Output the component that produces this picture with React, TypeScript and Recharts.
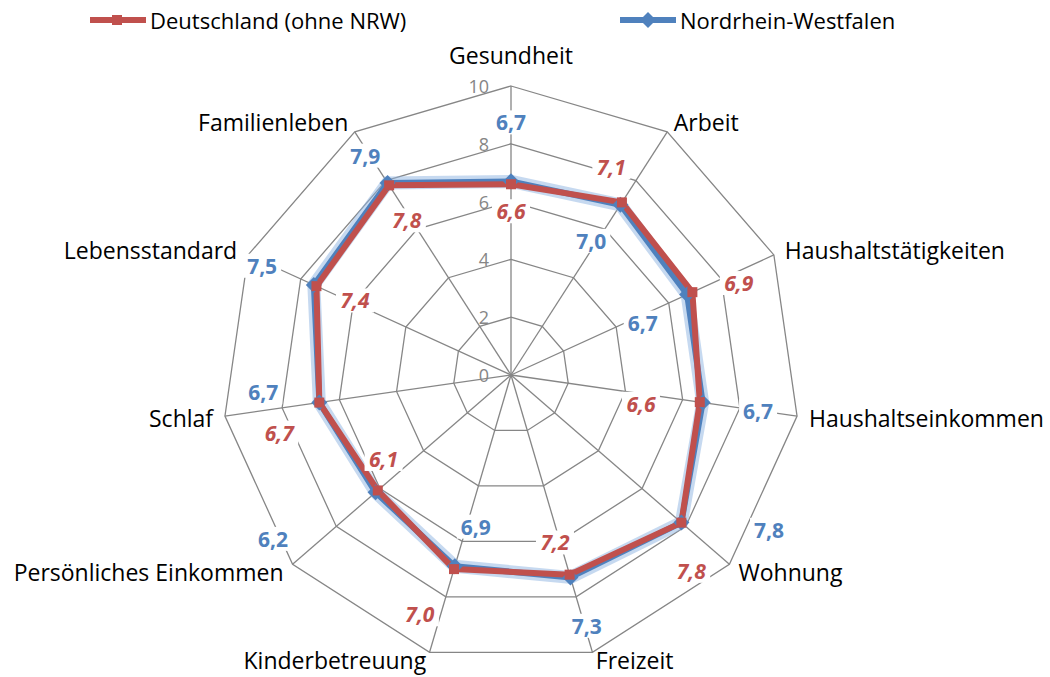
import { RadarChart, Radar, PolarGrid, PolarAngleAxis, PolarRadiusAxis } from 'recharts';

const categories = ['Gesundheit', 'Arbeit', 'Haushaltstätigkeiten', 'Haushaltseinkommen', 'Wohnung', 'Freizeit', 'Kinderbetreuung', 'Persönliches Einkommen', 'Schlaf', 'Lebensstandard', 'Familienleben'];
const deutschland = [6.6, 7.1, 6.9, 6.6, 7.8, 7.2, 7.0, 6.1, 6.7, 7.4, 7.8];
const nrw = [6.7, 7.0, 6.7, 6.7, 7.8, 7.3, 6.9, 6.2, 6.7, 7.5, 7.9];
const radiusTicks = [0, 2, 4, 6, 8, 10];

// label placement per point: [radial px, clockwise tangential px]
const deLabelOffset = [[-27, 0], [24, -28], [46, 11], [-58, 10], [39, 30], [-35, 5], [53, 20], [-25, 20], [44, -24], [-41, 3], [-39, -4]];
const nrwLabelOffset = [[59, 0], [-46, -5], [-52, 7], [56, 0], [71, -52], [51, -2], [-44, -9], [108, 32], [54, 18], [55, -4], [35, -4]];

const data = categories.map((name, i) => ({ name, de: deutschland[i], nrw: nrw[i] }));

const CX = 511;
const CY = 375;
const R = 289;
const RED = '#C0504D';
const BLUE = '#4F81BD';
const FONT = '"Open Sans", "Noto Sans", sans-serif';

const fmt = (v: number) => v.toFixed(1).replace('.', ',');

function AngleTick(props: any) {
  const { x, y, payload } = props;
  const dx = x - CX;
  const dy = y - CY;
  const len = Math.hypot(dx, dy) || 1;
  const ux = dx / len;
  const uy = dy / len;
  const vx = CX + ux * R;
  const vy = CY + uy * R;
  const mid = Math.abs(ux) < 0.05;
  const anchor = mid ? 'middle' : ux > 0 ? 'start' : 'end';
  // keep the bottom labels inside the frame
  const ty = Math.min(vy + uy * 12 - (mid ? 19 : 0), 660);
  return (
    <text x={vx + ux * 12} y={ty} textAnchor={anchor} dominantBaseline="central"
      fontSize={23} fontFamily={FONT} fill="#000">
      {payload.value}
    </text>
  );
}

function RadiusTick(props: any) {
  const { x, y, payload } = props;
  return (
    <text x={x - 22} y={y} textAnchor="end" dominantBaseline="central" fontSize={18} fontFamily={FONT} fill="#868686">
      {payload.value}
    </text>
  );
}

function makeDot(values: number[], offsets: number[][], color: string, shape: 'square' | 'diamond', italic: boolean) {
  return (props: any) => {
    const { cx, cy, index } = props;
    const dx = cx - CX;
    const dy = cy - CY;
    const len = Math.hypot(dx, dy) || 1;
    const ux = dx / len;
    const uy = dy / len;
    const [rad, tan] = offsets[index];
    const lx = cx + ux * rad - uy * tan;
    const ly = cy + uy * rad + ux * tan;
    return (
      <g key={`dot-${shape}-${index}`}>
        {shape === 'square' ? (
          <rect x={cx - 5} y={cy - 5} width={10} height={10} fill={color} />
        ) : (
          <polygon points={`${cx},${cy - 8} ${cx + 8},${cy} ${cx},${cy + 8} ${cx - 8},${cy}`} fill={color} />
        )}
        <rect x={lx - 19} y={ly - 12} width={38} height={24} fill="#fff" />
        <text x={lx} y={ly} textAnchor="middle" dominantBaseline="central" fontSize={21} fontWeight="bold"
          fontStyle={italic ? 'italic' : 'normal'} fontFamily={FONT} fill={color}>
          {fmt(values[index])}
        </text>
      </g>
    );
  };
}

function LegendItem({ color, shape, label, left }: { color: string, shape: 'square' | 'diamond', label: string, left: number }) {
  return (
    <div style={{ position: 'absolute', left, top: 6, display: 'flex', alignItems: 'center' }}>
      <svg width={56} height={28}>
        <line x1={0} y1={14} x2={56} y2={14} stroke={color} strokeWidth={6} />
        {shape === 'square'
          ? <rect x={22} y={9} width={10} height={10} fill={color} />
          : <polygon points="28,6 36,14 28,22 20,14" fill={color} />}
      </svg>
      <span style={{ fontSize: 22, fontFamily: FONT, color: '#000', marginLeft: 4, lineHeight: '28px' }}>{label}</span>
    </div>
  );
}

export default function App() {
  return (
    <div style={{ position: 'absolute', left: 0, top: 0, width: 1050, height: 677, background: '#fff' }}>
      <RadarChart width={1050} height={677} data={data} cx={CX} cy={CY} outerRadius={R}
        startAngle={90} endAngle={-270} margin={{ top: 0, right: 0, bottom: 0, left: 0 }}>
        <PolarGrid gridType="polygon" stroke="#868686" strokeWidth={1.3} />
        <PolarAngleAxis dataKey="name" tick={AngleTick} tickLine={false} axisLine={false} />
        <PolarRadiusAxis angle={90} domain={[0, 10]} ticks={radiusTicks} tickCount={6} tick={RadiusTick}
          axisLine={false} tickLine={false} />
        <Radar dataKey="nrw" stroke="#8db3e2" strokeOpacity={0.5} strokeWidth={13} fill="none" fillOpacity={0}
          dot={false} isAnimationActive={false} legendType="none" />
        <Radar dataKey="nrw" name="Nordrhein-Westfalen" stroke={BLUE} strokeWidth={6} fill="none" fillOpacity={0}
          strokeLinejoin="round" dot={makeDot(nrw, nrwLabelOffset, BLUE, 'diamond', false)} isAnimationActive={false} />
        <Radar dataKey="de" name="Deutschland (ohne NRW)" stroke={RED} strokeWidth={6} fill="none" fillOpacity={0}
          strokeLinejoin="round" dot={makeDot(deutschland, deLabelOffset, RED, 'square', true)} isAnimationActive={false} />
      </RadarChart>
      <LegendItem color={RED} shape="square" label="Deutschland (ohne NRW)" left={90} />
      <LegendItem color={BLUE} shape="diamond" label="Nordrhein-Westfalen" left={620} />
    </div>
  );
}
